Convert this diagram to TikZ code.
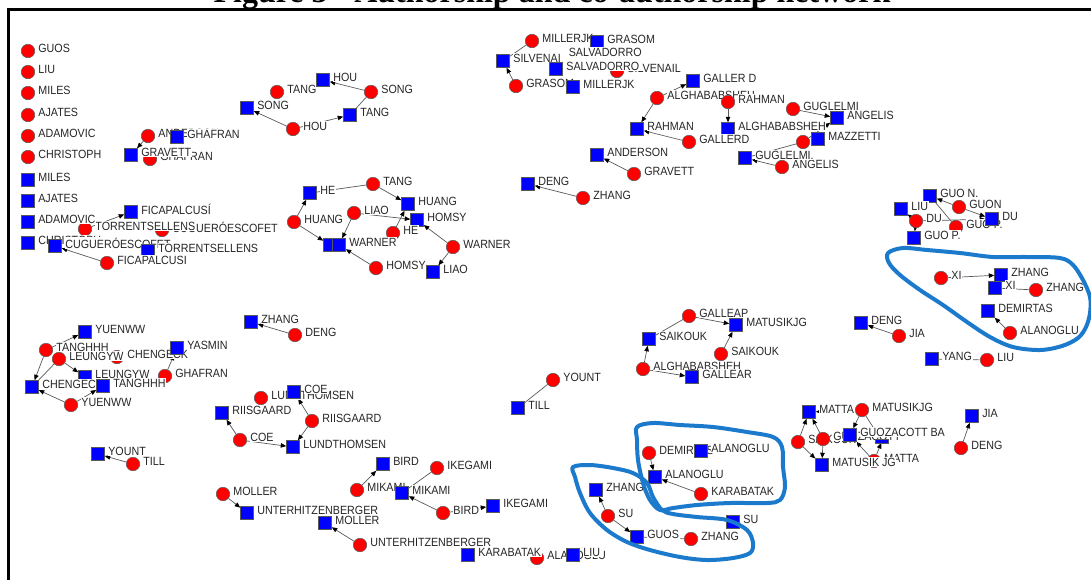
\documentclass[tikz,border=0pt]{standalone}
\usepackage{fontspec}
\setmainfont{Liberation Sans}
\newfontfamily\captionserif{Liberation Serif}
\newfontfamily\tagfont{Liberation Sans}[FakeStretch=0.9]
\usepackage{xcolor}
\usetikzlibrary{arrows.meta}
\definecolor{nodered}{RGB}{255,0,0}
\definecolor{nodeblue}{RGB}{0,0,255}
\definecolor{ringblue}{RGB}{28,122,204}
\pgfdeclarelayer{edges}
\pgfsetlayers{edges,main}
\tikzset{
  au/.style={circle,draw=black!65,fill=nodered,line width=0.5pt,minimum size=13.5pt,inner sep=0pt},
  co/.style={rectangle,draw=black!65,fill=nodeblue,line width=0.5pt,minimum size=13pt,inner sep=0pt},
  tag/.style={anchor=west,fill=white,inner xsep=0.6pt,inner ysep=1.2pt,text=black!85,font=\tagfont\fontsize{11.9}{13}\selectfont},
  lnk/.style={draw=black!65,line width=0.7pt,-{Triangle[length=5.5pt,width=4.5pt,color=black]}},
  tie/.style={draw=black!65,line width=0.7pt},
  ring/.style={draw=ringblue,line width=4pt,line join=round}
}
\newcommand{\ath}[4]{\node[au] (#1) at (#2,#3) {}; \node[tag] (#1-t) at ([xshift=2.6pt,yshift=3pt]#1.east) {#4};}
\newcommand{\coa}[4]{\node[co] (#1) at (#2,#3) {}; \node[tag] (#1-t) at ([xshift=2.8pt,yshift=3pt]#1.east) {#4};}

\begin{document}
\begin{tikzpicture}[x=1pt,y=-1pt]
\useasboundingbox (0,0) rectangle (1091,579);
\node[font=\captionserif\bfseries\fontsize{32}{35}\selectfont,anchor=base,inner sep=0pt] (caption) at (552,2) {Figure 3 - Authorship and co-authorship network};
\draw[line width=2.6pt] (1100,9.5) -- (8.5,9.5) -- (8.5,600);

% isolates and the ficapalcusi group
\ath{cug-a}{162}{230}{CUGUERÓESCOFET}
\ath{tor-a}{85}{229}{TORRENTSELLENS}
\ath{guos-a}{28}{51}{GUOS}
\ath{liu-a}{28}{72}{LIU}
\ath{miles-a}{28}{93}{MILES}
\ath{ajates-a}{28}{115}{AJATES}
\ath{adam-a}{28}{136}{ADAMOVIC}
\ath{chris-a}{28}{157}{CHRISTOPH}
\coa{miles-c}{28}{180}{MILES}
\coa{ajates-c}{28}{201}{AJATES}
\coa{adam-c}{28}{222}{ADAMOVIC}
\coa{chris-c}{28}{243}{CHRISTOPH}
\coa{cug-c}{55}{246}{CUGUERÓESCOFET}
\coa{tor-c}{148}{251}{TORRENTSELLENS}
\coa{fic-c}{131}{212}{FICAPALCUSÍ}
\ath{fic-a}{107}{263}{FICAPALCUSI}

% gravett
\ath{gha2-a}{150}{159}{GHAFRAN}
\ath{and-a}{148}{136}{ANDERSON}
\coa{gha-c}{177}{137}{GHAFRAN}
\coa{grav-c}{131}{155}{GRAVETT}

% hou song tang
\ath{tang-a}{277}{92}{TANG}
\coa{hou-c}{323}{80}{HOU}
\ath{song-a}{371}{92}{SONG}
\coa{song-c}{247}{108}{SONG}
\coa{tang-c}{350}{115}{TANG}
\ath{hou-a}{293}{129}{HOU}

% he huang warner
\coa{he-c}{310}{193}{HE}
\ath{tang2-a}{373}{184}{TANG}
\coa{huang-c}{408}{204}{HUANG}
\ath{liao-a}{354}{213}{LIAO}
\coa{homsy-c}{417}{220}{HOMSY}
\ath{huang-a}{294}{222}{HUANG}
\ath{he-a}{393}{233}{HE}
\node[co] (warner-c0) at (330,245) {};
\coa{warner-c}{339}{245}{WARNER}
\ath{warner-a}{453}{247}{WARNER}
\ath{homsy-a}{376}{268}{HOMSY}
\coa{liao-c}{433}{272}{LIAO}

% millerjk
\ath{silv-a}{617}{71}{SILVENAIL}
\ath{mil-a}{532}{41}{MILLERJK}
\coa{gras-c}{597}{42}{GRASOM}
\coa{silv-c}{503}{61}{SILVENAI}
\node[tag] (salv-t) at (568,52) {SALVADORRO};
\coa{salv-c}{556}{69}{SALVADORRO}
\ath{gras-a}{516}{86}{GRASOM}
\coa{mil-c}{573}{87}{MILLERJK}

% alghababsheh rahman
\coa{gal-c}{693}{81}{GALLER D}
\ath{algh-a}{657}{98}{ALGHABABSHEH}
\ath{rah-a}{728}{102}{RAHMAN}
\coa{rah-c}{637}{129}{RAHMAN}
\coa{alghs-c}{728}{129}{ALGHABABSHEH}
\ath{gald-a}{689}{142}{GALLERD}
\coa{and-c}{597}{155}{ANDERSON}
\ath{grav-a}{634}{174}{GRAVETT}
\coa{deng-c}{528}{184}{DENG}
\ath{zhang-a}{583}{198}{ZHANG}

% guglelmi
\ath{gug-a}{793}{109}{GUGLELMI}
\coa{ang-c}{837}{118}{ANGELIS}
\node[au] (mazz-a) at (803,142) {};
\coa{mazz-c}{818}{139}{MAZZETTI}
\ath{ang-a}{782}{167}{ANGELIS}
\coa{gug-c}{745}{158}{GUGLELMI.}

% guo du
\ath{guop-a}{956}{227}{GUO P.}
\coa{guon-c}{930}{196}{GUO N.}
\coa{liu-c}{901}{209}{LIU}
\ath{guon-a}{959}{207}{GUON}
\ath{dux-a}{916}{221}{DU}
\coa{du-c}{992}{219}{DU}
\coa{guop-c}{914}{238}{GUO P.}

% xi zhang demirtas
\ath{xi-a}{941}{278}{XI}
\coa{zhx-c}{1001}{275}{ZHANG}
\coa{xi-c}{995}{288}{XI}
\ath{zhx-a}{1036}{290}{ZHANG}
\coa{dem-c}{988}{311}{DEMIRTAS}
\ath{alx-a}{1010}{333}{ALANOGLU}
\coa{dengx-c}{861}{323}{DENG}
\ath{jia-a}{899}{336}{JIA}
\coa{yang-c}{932}{359}{YANG}
\ath{liux-a}{987}{360}{LIU}

% zhang deng
\coa{zhl-c}{251}{322}{ZHANG}
\ath{dengl-a}{295}{335}{DENG}

% yuenww tanghhh
\ath{chg-a}{117}{357}{CHENGECK}
\ath{leu-a}{59}{359}{LEUNGYW}
\ath{tgh-a}{46}{350}{TANGHHH}
\coa{yas-c}{177}{348}{YASMIN}
\coa{yue-c}{85}{332}{YUENWW}
\coa{leu-c}{85}{377}{LEUNGYW}
\ath{gha-a}{165}{376}{GHAFRAN}
\coa{chg-c}{32}{387}{CHENGECK}
\coa{tgh-c}{103}{386}{TANGHHH}
\ath{yue-a}{71}{405}{YUENWW}

\coa{yount-c}{98}{454}{YOUNT}
\ath{till-a}{133}{464}{TILL}

% coe riisgaard
\ath{lund-a}{261}{398}{LUNDTHOMSEN}
\coa{coe-c}{294}{392}{COE}
\coa{riis-c}{222}{413}{RIISGAARD}
\ath{riis-a}{312}{421}{RIISGAARD}
\ath{coe-a}{240}{440}{COE}
\coa{lund-c}{293}{447}{LUNDTHOMSEN}

% mikami bird
\coa{bird-c}{383}{464}{BIRD}
\ath{ike-a}{437}{468}{IKEGAMI}
\ath{mik-a}{357}{490}{MIKAMI}
\coa{mik-c}{402}{493}{MIKAMI}
\ath{bird-a}{443}{513}{BIRD}
\coa{ike-c}{493}{506}{IKEGAMI}

% moller
\ath{mol-a}{223}{494}{MOLLER}
\coa{unt-c}{247}{513}{UNTERHITZENBERGER}
\coa{mol-c}{325}{523}{MOLLER}
\ath{unt-a}{360}{545}{UNTERHITZENBERGER}

\ath{alb-a}{537}{558}{ALANOGLU}
\coa{kar-c}{468}{555}{KARABATAK}
\coa{liub-c}{573}{555}{LIU}

\ath{yount-a}{553}{380}{YOUNT}
\coa{till-c}{518}{408}{TILL}

% saikouk galleap
\ath{gap-a}{689}{316}{GALLEAP}
\coa{matj-c}{736}{325}{MATUSIKJG}
\coa{sai-c}{649}{339}{SAIKOUK}
\ath{sai-a}{721}{354}{SAIKOUK}
\ath{alghb-a}{643}{369}{ALGHABABSHEH}
\coa{gar-c}{692}{377}{GALLEAR}

% alanoglu su
\ath{dem-a}{649}{453}{DEMIRTAS}
\coa{ala-c}{701}{451}{ALANOGLU}
\coa{alb2-c}{655}{477}{ALANOGLU}
\ath{kara-a}{701}{494}{KARABATAK}
\coa{zhs-c}{596}{490}{ZHANG}
\ath{su-a}{608}{516}{SU}
\coa{su-c}{733}{522}{SU}
\coa{guos-c}{637}{537}{GUOS}
\ath{zhs-a}{691}{539}{ZHANG}

% matusik matta
\ath{mat-a}{862}{410}{MATUSIKJG}
\coa{matta-c}{809}{412}{MATTA}
\ath{sai2-a}{798}{442}{SAIKOUK}
\ath{guoz-a}{823}{439}{GUOZACOTT}
\ath{matta-a}{874}{461}{MATTA}
\coa{matk-c}{822}{465}{MATUSIK JG}
\coa{guoz-c}{850}{435}{GUOZACOTT BA}
\node[co,minimum height=3.5pt] (bar-c) at (882,441) {};
\coa{jia-c}{972}{416}{JIA}
\ath{dengm-a}{961}{448}{DENG}

\begin{pgfonlayer}{edges}
\draw[lnk] (and-a) -- (grav-c);
\draw[lnk] (fic-a) -- (cug-c);
\draw[lnk] (tor-a) -- (fic-c);
\draw[lnk] (song-a) -- (hou-c);
\draw[lnk] (hou-a) -- (song-c);
\draw[lnk] (hou-a) -- (tang-c);
\draw[tie] (song-a) -- (tang-c);
\draw[lnk] (huang-a) -- (he-c);
\draw[tie] (tang2-a) -- (he-c);
\draw[lnk] (tang2-a) -- (huang-c);
\draw[lnk] (huang-a) -- (warner-c0);
\draw[lnk] (liao-a) -- (warner-c);
\draw[lnk] (liao-a) -- (homsy-c);
\draw[lnk] (he-a) -- (huang-c);
\draw[lnk] (warner-a) -- (homsy-c);
\draw[lnk] (warner-a) -- (liao-c);
\draw[lnk] (homsy-a) -- (warner-c);
\draw[lnk] (gras-a) -- (silv-c);
\draw[tie] (mil-a) -- (silv-c);
\draw[lnk] (algh-a) -- (gal-c);
\draw[lnk] (algh-a) -- (rah-c);
\draw[lnk] (gald-a) -- (rah-c);
\draw[lnk] (rah-a) -- (alghs-c);
\draw[lnk] (grav-a) -- (and-c);
\draw[lnk] (zhang-a) -- (deng-c);
\draw[lnk] (gug-a) -- (ang-c);
\draw[lnk] (mazz-a) -- (ang-c);
\draw[tie] (mazz-a) -- (gug-c);
\draw[lnk] (ang-a) -- (gug-c);
\draw[lnk] (guon-a) -- (du-c);
\draw[lnk] (guon-a) -- (guon-c);
\draw[lnk] (dux-a) -- (liu-c);
\draw[lnk] (dux-a) -- (guop-c);
\draw[lnk] (dux-a) -- (du-c);
\draw[tie] (guop-a) -- (guon-c);
\draw[lnk] (xi-a) -- (zhx-c);
\draw[tie] (zhx-a) -- (xi-c);
\draw[lnk] (alx-a) -- (dem-c);
\draw[lnk] (jia-a) -- (dengx-c);
\draw[tie] (liux-a) -- (yang-c);
\draw[lnk] (dengl-a) -- (zhl-c);
\draw[lnk] (tgh-a) -- (chg-c);
\draw[lnk] (tgh-a) -- (yue-c);
\draw[lnk] (leu-a) -- (leu-c);
\draw[tie] (leu-a) -- (chg-c);
\draw[lnk] (yue-a) -- (chg-c);
\draw[lnk] (yue-a) -- (tgh-c);
\draw[lnk] (gha-a) -- (yas-c);
\draw[lnk] (till-a) -- (yount-c);
\draw[tie] (yount-a) -- (till-c);
\draw[lnk] (coe-a) -- (riis-c);
\draw[lnk] (coe-a) -- (lund-c);
\draw[lnk] (riis-a) -- (coe-c);
\draw[lnk] (riis-a) -- (lund-c);
\draw[lnk] (mik-a) -- (bird-c);
\draw[tie] (ike-a) -- (mik-c);
\draw[lnk] (bird-a) -- (mik-c);
\draw[lnk] (bird-a) -- (ike-c);
\draw[lnk] (mol-a) -- (unt-c);
\draw[lnk] (unt-a) -- (mol-c);
\draw[tie] (gap-a) -- (sai-c);
\draw[lnk] (gap-a) -- (matj-c);
\draw[lnk] (sai-a) -- (matj-c);
\draw[lnk] (alghb-a) -- (sai-c);
\draw[lnk] (alghb-a) -- (gar-c);
\draw[lnk] (dem-a) -- (alb2-c);
\draw[lnk] (kara-a) -- (alb2-c);
\draw[lnk] (su-a) -- (zhs-c);
\draw[lnk] (su-a) -- (guos-c);
\draw[tie] (zhs-a) -- (guos-c);
\draw[lnk] (sai2-a) -- (matta-c);
\draw[lnk] (sai2-a) -- (matk-c);
\draw[lnk] (guoz-a) -- (matta-c);
\draw[lnk] (guoz-a) -- (matk-c);
\draw[lnk] (mat-a) -- (guoz-c);
\draw[lnk] (mat-a) -- (matta-c);
\draw[tie] (mat-a) -- (bar-c);
\draw[lnk] (matta-a) -- (bar-c);
\draw[lnk] (matta-a) -- (guoz-c);
\draw[lnk] (dengm-a) -- (jia-c);
\end{pgfonlayer}

% hand drawn rings
\draw[ring] plot[smooth cycle,tension=0.55] coordinates {(888,253) (903,248) (927,250) (960,253) (993,257) (1027,257) (1060,258) (1073,265) (1083,280) (1090,297) (1090,313) (1086,327) (1078,338) (1062,346) (1040,350) (1013,347) (990,337) (967,322) (943,305) (920,290) (900,275) (889,263)};
\draw[ring] plot[smooth cycle,tension=0.55] coordinates {(637,427) (653,423) (680,425) (713,427) (747,432) (773,437) (782,447) (783,467) (785,487) (780,500) (767,503) (730,503) (697,505) (673,508) (660,510) (650,500) (643,483) (638,460) (637,440)};
\draw[ring] plot[smooth cycle,tension=0.55] coordinates {(573,467) (590,465) (613,468) (633,473) (647,483) (653,497) (662,510) (673,514) (697,517) (727,520) (747,530) (753,543) (750,553) (733,558) (707,560) (680,557) (650,550) (627,542) (607,530) (590,513) (580,493) (575,477)};
\end{tikzpicture}
\end{document}
